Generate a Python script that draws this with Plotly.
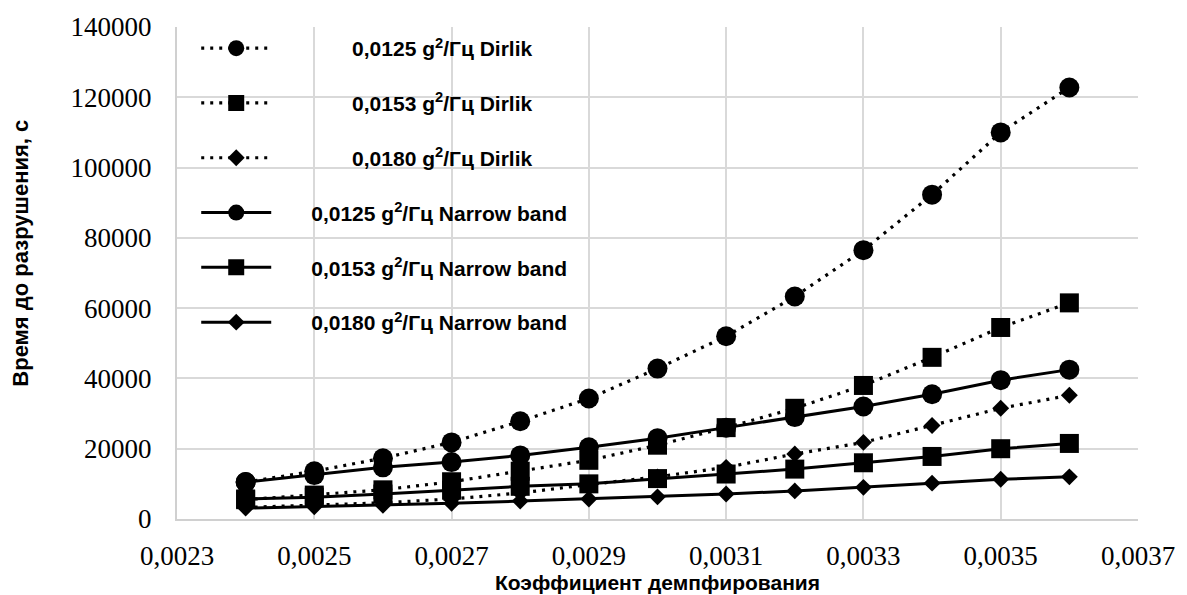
import plotly.graph_objects as go

# Damping coefficient values (x axis)
damping = [0.0024, 0.0025, 0.0026, 0.0027, 0.0028, 0.0029, 0.0030,
           0.0031, 0.0032, 0.0033, 0.0034, 0.0035, 0.0036]

# Time to failure, s — Dirlik method
dirlik_0125 = [10500, 13600, 17300, 21800, 27800, 34300, 42800,
               52000, 63300, 76500, 92300, 110000, 122800]
dirlik_0153 = [5500, 6800, 8300, 10600, 13600, 16700, 21000,
               26000, 31500, 38000, 46000, 54500, 61500]
dirlik_0180 = [3300, 3900, 4600, 5700, 7400, 9800, 12000,
               14700, 18500, 21800, 26600, 31500, 35200]

# Time to failure, s — narrow band method
narrow_0125 = [10500, 12500, 14700, 16200, 18100, 20400, 23000,
               26000, 29000, 32000, 35500, 39500, 42500]
narrow_0153 = [5700, 6200, 7100, 8200, 9300, 10000, 11500,
               12800, 14200, 16000, 17800, 20000, 21500]
narrow_0180 = [3100, 3500, 3900, 4500, 5100, 5700, 6300,
               7100, 8000, 9000, 10200, 11300, 12000]

# Axis ticks and their labels (decimal comma)
x_ticks = [0.0023, 0.0025, 0.0027, 0.0029, 0.0031, 0.0033, 0.0035, 0.0037]
x_tick_labels = ["0,0023", "0,0025", "0,0027", "0,0029",
                 "0,0031", "0,0033", "0,0035", "0,0037"]
y_ticks = [0, 20000, 40000, 60000, 80000, 100000, 120000, 140000]
y_tick_labels = ["0", "20000", "40000", "60000",
                 "80000", "100000", "120000", "140000"]

# non-breaking spaces keep the legend labels centred in their column
PAD_D = "\u00a0" * 13
PAD_N = "\u00a0" * 6
series = [
    (PAD_D + "<b>0,0125 g<sup>2</sup>/Гц Dirlik</b>", dirlik_0125, "circle", 20, "dot"),
    (PAD_D + "<b>0,0153 g<sup>2</sup>/Гц Dirlik</b>", dirlik_0153, "square", 19, "dot"),
    (PAD_D + "<b>0,0180 g<sup>2</sup>/Гц Dirlik</b>", dirlik_0180, "diamond", 13, "dot"),
    (PAD_N + "<b>0,0125 g<sup>2</sup>/Гц Narrow band</b>", narrow_0125, "circle", 20, "solid"),
    (PAD_N + "<b>0,0153 g<sup>2</sup>/Гц Narrow band</b>", narrow_0153, "square", 19, "solid"),
    (PAD_N + "<b>0,0180 g<sup>2</sup>/Гц Narrow band</b>", narrow_0180, "diamond", 13, "solid"),
]

fig = go.Figure()
for i, (name, vals, symbol, size, dash) in enumerate(series):
    fig.add_trace(go.Scatter(
        x=damping, y=vals, name=name, mode="lines+markers",
        legendgroup=f"g{i}",
        line=dict(color="black", width=3.2 if dash == "dot" else 3,
                  dash="3px,6px" if dash == "dot" else "solid"),
        marker=dict(symbol=symbol, size=size, color="black",
                    line=dict(width=0)),
    ))

sans = "Arial"
serif = "Times New Roman"

fig.update_layout(
    width=1187, height=595,
    margin=dict(l=177, r=40, t=25, b=76),
    paper_bgcolor="white", plot_bgcolor="white",
    showlegend=True,
    legend=dict(
        x=0.02, y=0.998, xanchor="left", yanchor="top",
        bgcolor="rgba(0,0,0,0)",
        font=dict(family=sans, size=21, color="black"),
        tracegroupgap=24.5,
        itemwidth=70,
    ),
    xaxis=dict(
        range=[0.0023, 0.0037], tickmode="array",
        tickvals=x_ticks, ticktext=x_tick_labels,
        showgrid=True, gridcolor="#d9d9d9", gridwidth=2,
        showline=True, linecolor="#d0d0d0", linewidth=2,
        zeroline=False,
        ticks="outside", ticklen=12, tickcolor="rgba(0,0,0,0)",
        tickfont=dict(family=serif, size=27, color="black"),
    ),
    yaxis=dict(
        range=[0, 140000], tickmode="array",
        tickvals=y_ticks, ticktext=y_tick_labels,
        showgrid=True, gridcolor="#d9d9d9", gridwidth=2,
        showline=True, linecolor="#d0d0d0", linewidth=2,
        zeroline=False,
        ticks="outside", ticklen=18, tickcolor="rgba(0,0,0,0)",
        tickfont=dict(family=serif, size=27, color="black"),
    ),
    annotations=[
        dict(text="<b>Время до разрушения, с</b>", xref="paper", yref="paper",
             x=-0.163, y=0.54, textangle=-90, showarrow=False,
             xanchor="center", yanchor="middle",
             font=dict(family=sans, size=22, color="black")),
        dict(text="<b>Коэффициент демпфирования</b>", xref="paper", yref="paper",
             x=0.5, y=-0.1296, showarrow=False,
             xanchor="center", yanchor="middle",
             font=dict(family=sans, size=21, color="black")),
    ],
)

fig.write_html("out.html")
